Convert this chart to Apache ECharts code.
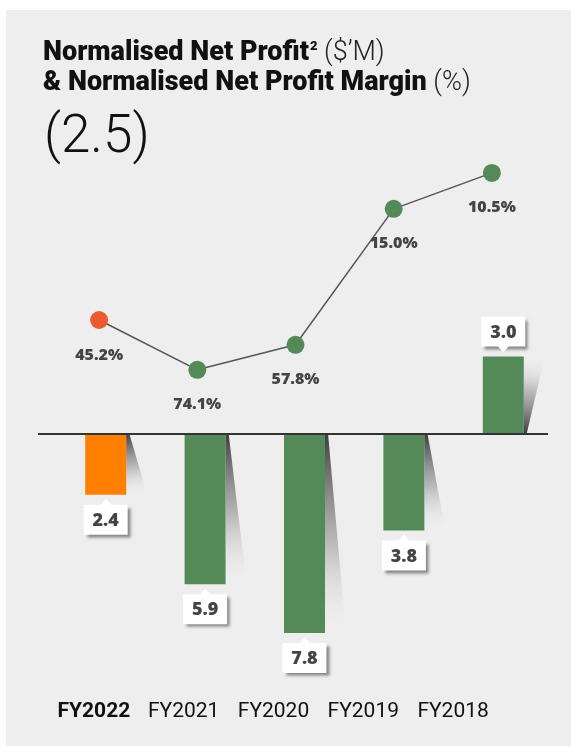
<!DOCTYPE html>
<html>
<head>
<meta charset="utf-8">
<script src="https://cdn.jsdelivr.net/npm/echarts@6/dist/echarts.min.js"></script>
<style>
  html, body { margin: 0; padding: 0; background: #ffffff; }
  #chart { width: 571px; height: 746px; }
</style>
</head>
<body>
<div id="chart"></div>
<script>
// data
var years      = ['FY2022', 'FY2021', 'FY2020', 'FY2019', 'FY2018'];
var netProfit  = [-2.4, -5.9, -7.8, -3.8, 3.0];      // $'M, negative = loss
var margin     = [45.2, 74.1, 57.8, 15.0, 10.5];     // %
var headline   = '(2.5)';

var green  = '#538a57';
var orange = '#ff7f00';
var dotOrange = '#ee5a30';
var textGrey = '#444444';
var labelFont = '"Open Sans", sans-serif';
var headFont = 'Roboto, sans-serif';

var chart = echarts.init(document.getElementById('chart'));

var barHalf = 20.5;

function renderCallout(params, api){
    var idx = api.value(0);
    var val = api.value(1);
    var base = api.coord([idx, 0]);
    var end  = api.coord([idx, val]);
    var cx = end[0];
    var right = cx + barHalf;
    var neg = val < 0;
    var dir = neg ? 1 : -1;

    // shadow wedge beside the bar
    var wedge = {
        type: 'polygon',
        shape: { points: [[right, base[1]], [right + 3, base[1]], [right + 21, end[1]], [right, end[1]]] },
        style: {
            fill: new echarts.graphic.LinearGradient(0, neg ? 0 : 1, 0.5, neg ? 1 : 0, [
                { offset: 0, color: 'rgba(50,50,50,0.95)' },
                { offset: 0.55, color: 'rgba(150,150,150,0.6)' },
                { offset: 1, color: 'rgba(238,238,238,0)' }
            ])
        }
    };

    var boxW = 44, boxH = 30;
    var boxTop = neg ? end[1] + 10 : end[1] - 10 - boxH;
    var tipY = end[1] + dir * 4;
    var baseY = end[1] + dir * 11;

    var box = {
        type: 'rect',
        shape: { x: cx - boxW / 2, y: boxTop, width: boxW, height: boxH },
        style: {
            fill: '#ffffff',
            shadowColor: 'rgba(0,0,0,0.45)', shadowBlur: 3, shadowOffsetX: 3, shadowOffsetY: 3
        }
    };
    var pointer = {
        type: 'polygon',
        shape: { points: [[cx - 6, baseY], [cx, tipY], [cx + 6, baseY]] },
        style: { fill: '#ffffff' }
    };
    var txt = {
        type: 'text',
        style: {
            x: cx, y: boxTop + boxH / 2 + 1,
            text: Math.abs(val).toFixed(1),
            align: 'center', verticalAlign: 'middle',
            font: '800 18px ' + labelFont,
            fill: textGrey
        }
    };
    return { type: 'group', children: [wedge, box, pointer, txt] };
}

var option = {
    backgroundColor: 'transparent',
    animation: false,
    graphic: [{
        type: 'rect', z: -10, silent: true,
        shape: { x: 6, y: 10, width: 571, height: 746 },
        style: { fill: '#eeeeee' }
    }],
    title: [{
        left: 43, top: 38, padding: 0,
        text: '{b|Normalised Net Profit}{sup|2}{n| ($’M)}\n{b|& Normalised Net Profit Margin}{n| (%)}',
        textStyle: {
            rich: {
                b:   { fontFamily: headFont, fontWeight: 900, fontSize: 27, lineHeight: 30, color: '#111111' },
                sup: { fontFamily: headFont, fontWeight: 900, fontSize: 13, lineHeight: 30, color: '#111111', verticalAlign: 'top', padding: [2, 0, 0, 1] },
                n:   { fontFamily: headFont, fontWeight: 300, fontSize: 27, lineHeight: 30, color: '#222222' }
            }
        }
    }, {
        left: 44, top: 112, padding: 0,
        text: headline,
        textStyle: { fontFamily: 'Roboto', fontWeight: 300, fontSize: 53, color: '#111111' }
    }],
    grid: [
        { left: 50, right: 30, top: 168, height: 232 },
        { left: 56, right: 18, top: 331, height: 307 },
        { left: 49, right: 73, top: 689, height: 1 }
    ],
    xAxis: [
        { gridIndex: 0, type: 'category', data: years, show: false },
        { gridIndex: 1, type: 'category', data: years,
          axisLine: { show: false }, axisTick: { show: false }, axisLabel: { show: false } },
        { gridIndex: 2, type: 'category', data: years,
          axisLine: { show: false }, axisTick: { show: false },
          axisLabel: {
              interval: 0, margin: 11,
              fontFamily: headFont, fontSize: 21, color: '#111111',
              formatter: function(v, i){ return i === 0 ? '{b|' + v + '}' : v; },
              rich: { b: { fontFamily: headFont, fontSize: 21, fontWeight: 'bold', color: '#111111' } }
          } }
    ],
    yAxis: [
        { gridIndex: 0, type: 'log', logBase: 10, min: 10, max: 100, inverse: true, show: false },
        { gridIndex: 1, type: 'value', min: -8, max: 4, show: false },
        { gridIndex: 2, type: 'value', show: false }
    ],
    series: [
        {
            type: 'bar', xAxisIndex: 1, yAxisIndex: 1,
            barWidth: 41,
            data: netProfit.map(function(v, i){
                return { value: v, itemStyle: { color: i === 0 ? orange : green } };
            }),
            // zero baseline, running a little wider than the plot
            markLine: {
                silent: true, symbol: 'none', label: { show: false },
                lineStyle: { color: '#333333', width: 2, type: 'solid' },
                data: [[{ x: 38, yAxis: 0 }, { x: 548, yAxis: 0 }]]
            },
            z: 3
        },
        {
            type: 'custom', xAxisIndex: 1, yAxisIndex: 1,
            renderItem: renderCallout,
            data: netProfit.map(function(v, i){ return [i, v]; }),
            z: 4
        },
        {
            type: 'line', xAxisIndex: 0, yAxisIndex: 0,
            data: margin.map(function(v, i){
                return { value: v, itemStyle: { color: i === 0 ? dotOrange : green } };
            }),
            symbol: 'circle', symbolSize: 18,
            lineStyle: { color: '#555555', width: 1.5 },
            label: {
                show: true, position: 'bottom', distance: 18,
                formatter: function(p){ return p.value.toFixed(1) + '%'; },
                fontFamily: labelFont, fontWeight: 800, fontSize: 16, color: textGrey
            },
            z: 5
        }
    ]
};

chart.setOption(option);
</script>
</body>
</html>
